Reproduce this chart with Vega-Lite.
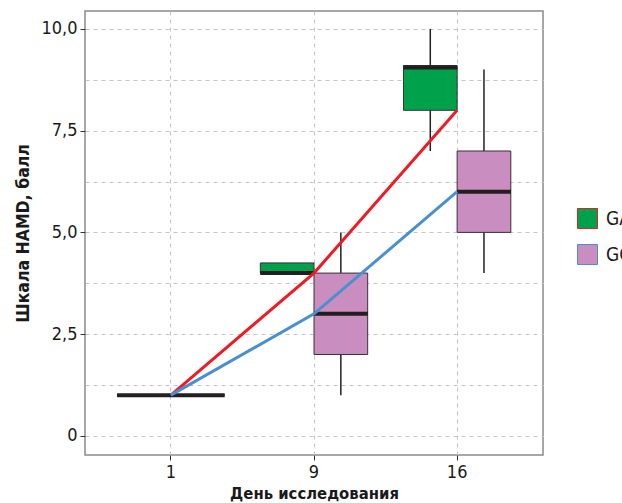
{
  "$schema": "https://vega.github.io/schema/vega-lite/v6.json",
  "width": 458,
  "height": 444,
  "autosize": {"type": "none"},
  "padding": {"left": 85, "top": 11, "right": 79, "bottom": 48},
  "background": "white",
  "config": {
    "view": {"stroke": "#8a8a8a", "strokeWidth": 1.5},
    "font": "DejaVu Sans Condensed, sans-serif",
    "axis": {
      "labelFont": "DejaVu Sans Condensed, sans-serif",
      "titleFont": "DejaVu Sans Condensed, sans-serif",
      "labelColor": "#1a1a1a",
      "titleColor": "#1a1a1a",
      "domain": false,
      "tickColor": "#333333",
      "tickSize": 5,
      "tickWidth": 1,
      "gridColor": "#c4c4c4",
      "gridDash": [4, 4],
      "gridWidth": 1
    },
    "legend": {
      "labelFont": "DejaVu Sans Condensed, sans-serif"
    }
  },
  "datasets": {
    "boxes": [
      {"day": "1", "group": "GA", "lo": 1, "q1": 1, "median": 1, "q3": 1, "hi": 1},
      {"day": "1", "group": "GC", "lo": 1, "q1": 1, "median": 1, "q3": 1, "hi": 1},
      {"day": "9", "group": "GA", "lo": 4, "q1": 4, "median": 4, "q3": 4.25, "hi": 4.25},
      {"day": "9", "group": "GC", "lo": 1, "q1": 2, "median": 3, "q3": 4, "hi": 5},
      {"day": "16", "group": "GA", "lo": 7, "q1": 8, "median": 9.05, "q3": 9.1, "hi": 10},
      {"day": "16", "group": "GC", "lo": 4, "q1": 5, "median": 6, "q3": 7, "hi": 9}
    ],
    "means": [
      {"day": "1", "group": "GA", "value": 1},
      {"day": "9", "group": "GA", "value": 4},
      {"day": "16", "group": "GA", "value": 8},
      {"day": "1", "group": "GC", "value": 1},
      {"day": "9", "group": "GC", "value": 3},
      {"day": "16", "group": "GC", "value": 6}
    ]
  },
  "encoding": {
    "x": {
      "field": "day",
      "type": "nominal",
      "sort": ["1", "9", "16"],
      "scale": {"paddingInner": 0.25, "paddingOuter": 0.225},
      "title": "День исследования",
      "axis": {
        "labelAngle": 0,
        "labelFontSize": 18,
        "labelPadding": 3,
        "titleFontSize": 16.5,
        "titleFontWeight": "bold",
        "titlePadding": 4,
        "grid": true,
        "bandPosition": 0.5
      }
    }
  },
  "layer": [
    {
      "data": {"name": "boxes"},
      "mark": {"type": "rule", "color": "#231f20", "strokeWidth": 1.5},
      "encoding": {
        "xOffset": {"field": "group", "type": "nominal", "scale": {"paddingInner": 0, "paddingOuter": 0}},
        "y": {
          "field": "lo",
          "type": "quantitative",
          "title": "Шкала HAMD, балл",
          "scale": {"domain": [-0.47, 10.44], "nice": false, "zero": false},
          "axis": {
            "values": [0, 1.25, 2.5, 3.75, 5, 6.25, 7.5, 8.75, 10],
            "labelExpr": "datum.value == 0 ? '0' : (datum.value % 2.5 == 0 ? replace(format(datum.value, '.1f'), '.', ',') : '')",
            "tickOpacity": {"condition": {"test": "datum.value % 2.5 == 0", "value": 1}, "value": 0},
            "labelFontSize": 18,
            "labelPadding": 3,
            "titleFontSize": 17.5,
            "titleFontWeight": "bold",
            "titlePadding": 8,
            "grid": true
          }
        },
        "y2": {"field": "hi"}
      }
    },
    {
      "data": {"name": "boxes"},
      "mark": {"type": "bar", "strokeWidth": 1, "stroke": "#3a2f38"},
      "encoding": {
        "xOffset": {"field": "group", "type": "nominal", "scale": {"paddingInner": 0, "paddingOuter": 0}},
        "y": {"field": "q1", "type": "quantitative", "title": "Шкала HAMD, балл"},
        "y2": {"field": "q3"},
        "fill": {
          "field": "group",
          "type": "nominal",
          "scale": {"domain": ["GA", "GC"], "range": ["#00a14b", "#c98dc0"]},
          "legend": {
            "title": null,
            "orient": "none",
            "legendX": 492,
            "legendY": 197,
            "symbolType": "square",
            "symbolSize": 400,
            "symbolStrokeColor": "#333333",
            "symbolStrokeWidth": 1,
            "labelFontSize": 19,
            "labelColor": "#1a1a1a",
            "labelOffset": 8,
            "rowPadding": 11
          }
        }
      }
    },
    {
      "data": {"name": "boxes"},
      "mark": {"type": "tick", "color": "#231f20", "size": 54, "thickness": 4, "opacity": 1},
      "encoding": {
        "xOffset": {"field": "group", "type": "nominal", "scale": {"paddingInner": 0, "paddingOuter": 0}},
        "y": {"field": "median", "type": "quantitative", "title": "Шкала HAMD, балл"}
      }
    },
    {
      "data": {"name": "means"},
      "mark": {"type": "line", "strokeWidth": 3},
      "encoding": {
        "y": {"field": "value", "type": "quantitative", "title": "Шкала HAMD, балл"},
        "stroke": {
          "field": "group",
          "type": "nominal",
          "scale": {"domain": ["GA", "GC"], "range": ["#ed1c24", "#4a90d0"]},
          "legend": null
        },
        "order": {"value": null}
      }
    }
  ]
}
